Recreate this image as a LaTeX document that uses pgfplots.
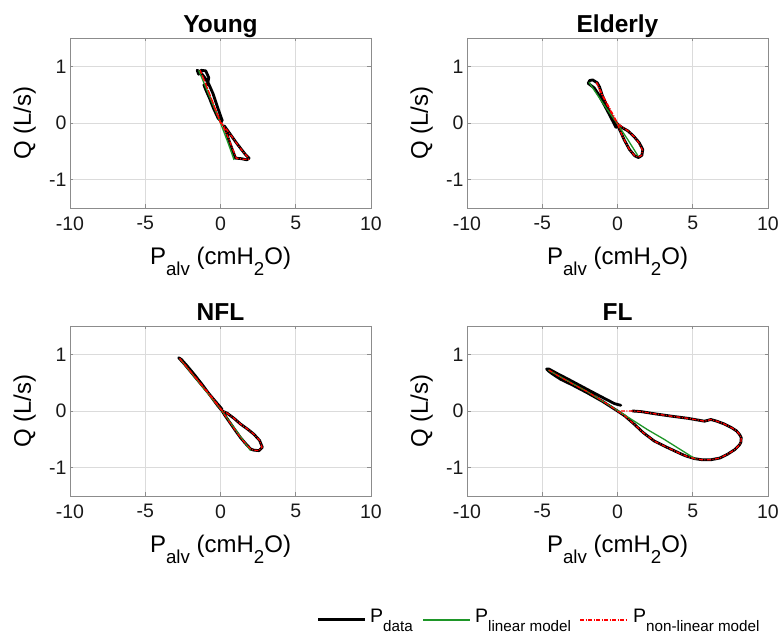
\documentclass[border=0pt]{standalone}
\usepackage{fontspec}
\setmainfont{Liberation Sans}
\usepackage{graphicx}
\usepackage{pgfplots}
\pgfplotsset{compat=1.18}

\definecolor{lingreen}{RGB}{30,150,40}
\definecolor{boxgray}{RGB}{140,140,140}

% MATLAB-like subscript: large and dropped low
\newcommand{\lsub}[1]{\raisebox{-0.42em}{\scalebox{0.78}{#1}}}

\pgfplotsset{
  panel/.style={
    scale only axis,
    width=301pt, height=170pt,
    xmin=-10, xmax=10, ymin=-1.5, ymax=1.5,
    xtick={-10,-5,0,5,10}, ytick={-1,0,1},
    grid=major,
    grid style={black!14, line width=0.6pt},
    axis line style={boxgray, line width=0.9pt},
    tick style={boxgray, line width=0.9pt},
    major tick length=3.5pt,
    tick align=inside,
    unbounded coords=jump,
    /pgf/number format/assume math mode=true,
    tick label style={font=\fontsize{19.5}{22}\selectfont, text=black!90},
    xticklabel style={yshift=-5pt},
    every axis title/.style={at={(axis description cs:0.5,1)}, anchor=base,
      yshift=5pt, font=\bfseries\fontsize{24.5}{28}\selectfont},
    every axis x label/.style={at={(axis description cs:0.5,-0.335)},
      anchor=base, font=\fontsize{24}{28}\selectfont},
    every axis y label/.style={at={(axis description cs:-0.13,0.5)},
      rotate=90, anchor=base, font=\fontsize{24}{28}\selectfont},
    xlabel={P\lsub{alv} (cmH\lsub{2}O)},
    ylabel={Q (L/s)},
  },
  pdata/.style={draw=black, line width=2.8pt, line join=round, line cap=round},
  plin/.style={draw=lingreen, line width=1.3pt},
  pnon/.style={draw=red, line width=1.3pt, dash pattern=on 4pt off 1.5pt on 1pt off 1.5pt},
}

\begin{document}
\begin{tikzpicture}
\path[use as bounding box] (0,0) rectangle (780pt,635pt);

% Young
\begin{axis}[panel, at={(70pt,427pt)}, anchor=south west, title={Young}]
\addplot[pdata] coordinates {
(0.12,0.04) (-0.2,0.28) (-0.5,0.52) (-0.8,0.70) (-1.1,0.82) (-1.35,0.90)
(-1.55,0.93) (-1.45,0.86) (-1.28,0.93) (-0.98,0.92) (-0.78,0.8) (-0.86,0.68)
(-1.1,0.67) (-1.0,0.60) (-0.75,0.45) (-0.45,0.25) (-0.15,0.08) (0.08,0.02)
(nan,nan)
(0.25,-0.05) (0.6,-0.18) (1.0,-0.33) (1.4,-0.47) (1.7,-0.57) (1.9,-0.62)
(1.75,-0.65) (1.4,-0.63) (1.0,-0.62) (0.8,-0.48) (0.55,-0.3) (0.35,-0.13) (0.25,-0.05)
};
\addplot[plin] coordinates {
(-1.45,0.93) (-0.7,0.45) (0.0,0.0) (0.5,-0.35) (0.9,-0.65)
};
\addplot[pnon] coordinates {
(-1.35,0.93) (-1.0,0.70) (-0.5,0.36) (0.0,0.02) (0.3,-0.08) (0.65,-0.2)
(1.05,-0.35) (1.45,-0.49) (1.8,-0.6) (1.85,-0.64) (1.5,-0.64) (1.05,-0.62)
(0.8,-0.45) (0.5,-0.25) (0.25,-0.1) (0.0,0.0) (-0.4,0.28) (-0.9,0.64) (-1.35,0.93)
};
\end{axis}

% Elderly
\begin{axis}[panel, at={(467pt,427pt)}, anchor=south west, title={Elderly}]
\addplot[pdata] coordinates {
(-0.1,-0.08) (-0.5,0.13) (-0.9,0.33) (-1.25,0.5) (-1.55,0.62) (-1.8,0.67)
(-1.95,0.70) (-1.85,0.75) (-1.65,0.76) (-1.35,0.71) (-1.2,0.64) (-1.0,0.48)
(-0.7,0.3) (-0.35,0.1) (0.0,-0.02) (0.3,-0.08) (0.7,-0.14) (1.1,-0.24)
(1.45,-0.35) (1.68,-0.47) (1.62,-0.57) (1.4,-0.61) (1.15,-0.58) (0.8,-0.47)
(0.45,-0.3) (0.2,-0.15) (0.02,-0.05)
};
\addplot[plin] coordinates {
(-1.9,0.72) (-1.0,0.36) (0.0,-0.02) (0.7,-0.3) (1.36,-0.58)
};
\addplot[pnon] coordinates {
(-1.4,0.72) (-1.0,0.5) (-0.5,0.25) (0.0,0.0) (0.3,-0.07) (0.7,-0.14)
(1.1,-0.24) (1.45,-0.36) (1.66,-0.48) (1.6,-0.57) (1.4,-0.6) (1.15,-0.58)
(0.8,-0.47) (0.45,-0.3) (0.2,-0.15) (0.0,-0.02) (-0.6,0.27) (-1.2,0.58) (-1.4,0.72)
};
\end{axis}

% NFL
\begin{axis}[panel, at={(70pt,139pt)}, anchor=south west, title={NFL}]
\addplot[pdata] coordinates {
(0.11,0.03) (-0.5,0.22) (-1.0,0.38) (-1.5,0.54) (-2.0,0.70) (-2.4,0.83)
(-2.78,0.94) (-2.6,0.91) (-2.2,0.79) (-1.7,0.63) (-1.2,0.46) (-0.7,0.28)
(-0.2,0.1) (0.11,0.0) (0.45,-0.04) (0.9,-0.13) (1.33,-0.23) (1.8,-0.32)
(2.22,-0.41) (2.6,-0.52) (2.78,-0.64) (2.56,-0.7) (2.2,-0.69) (2.0,-0.67)
(1.65,-0.57) (1.33,-0.47) (0.95,-0.33) (0.56,-0.18) (0.3,-0.08) (0.11,0.0)
};
\addplot[plin] coordinates {
(-2.7,0.92) (-1.3,0.46) (0.1,0.0) (1.0,-0.33) (2.0,-0.70)
};
\addplot[pnon] coordinates {
(-2.72,0.93) (-2.0,0.70) (-1.2,0.45) (-0.5,0.22) (0.11,0.01) (0.45,-0.04)
(0.9,-0.13) (1.33,-0.23) (1.8,-0.32) (2.22,-0.41) (2.6,-0.52) (2.76,-0.64)
(2.56,-0.7) (2.2,-0.69) (2.0,-0.67) (1.65,-0.57) (1.33,-0.47) (0.95,-0.33)
(0.56,-0.18) (0.3,-0.08) (0.11,0.0) (-0.7,0.27) (-1.7,0.6) (-2.72,0.93)
};
\end{axis}

% FL
\begin{axis}[panel, at={(467pt,139pt)}, anchor=south west, title={FL}]
\addplot[pdata] coordinates {
(1.0,0.0) (1.55,-0.01) (2.5,-0.05) (3.55,-0.09) (4.7,-0.13) (5.78,-0.18)
(6.2,-0.15) (6.6,-0.18) (7.1,-0.23) (7.55,-0.29) (7.9,-0.35) (8.1,-0.41)
(8.22,-0.47) (8.2,-0.55) (8.1,-0.6) (7.8,-0.68) (7.33,-0.76) (6.8,-0.83)
(6.22,-0.86) (5.6,-0.86) (5.11,-0.84) (4.5,-0.79) (4.0,-0.73) (3.2,-0.63)
(2.44,-0.53) (1.7,-0.38) (1.1,-0.23) (0.5,-0.09) (0.0,0.0) (-1.0,0.17)
(-2.0,0.32) (-3.0,0.46) (-3.78,0.56) (-4.3,0.65) (-4.6,0.71) (-4.71,0.74)
(-4.55,0.74) (-4.0,0.66) (-3.2,0.55) (-2.0,0.38) (-1.0,0.24) (-0.2,0.13) (0.22,0.1)
};
\addplot[plin] coordinates {
(-4.6,0.72) (-2.0,0.34) (0.0,0.01) (2.0,-0.33) (3.1,-0.5) (5.2,-0.85)
};
\addplot[pnon] coordinates {
(0.22,0.0) (1.0,0.0) (1.55,-0.01) (2.5,-0.05) (3.55,-0.09) (4.7,-0.13)
(5.78,-0.18) (6.2,-0.15) (6.6,-0.18) (7.1,-0.23) (7.55,-0.29) (7.9,-0.35)
(8.1,-0.41) (8.22,-0.47) (8.2,-0.55) (8.1,-0.6) (7.8,-0.68) (7.33,-0.76)
(6.8,-0.83) (6.22,-0.86) (5.6,-0.86) (5.11,-0.84) (4.5,-0.79) (4.0,-0.73)
(3.2,-0.63) (2.44,-0.53) (1.7,-0.38) (1.1,-0.23) (0.5,-0.09) (0.0,0.0)
(-1.0,0.18) (-2.0,0.34) (-3.0,0.48) (-4.0,0.63) (-4.6,0.73)
};
\end{axis}

% legend (sample lines and their labels)
\begin{scope}[every node/.style={anchor=base west, inner sep=0pt,
    font=\fontsize{19.5}{23}\selectfont}]
\draw[black, line width=3pt] (318pt,15pt) -- (365pt,15pt);
\node at (370pt,12pt) {P\lsub{data}};
\draw[lingreen, line width=1.5pt] (423pt,15pt) -- (470pt,15pt);
\node at (475pt,12pt) {P\lsub{linear model}};
\draw[red, line width=1.5pt, dash pattern=on 4pt off 1.5pt on 1pt off 1.5pt]
  (580pt,15pt) -- (628pt,15pt);
\node at (633pt,12pt) {P\lsub{non-linear model}};
\end{scope}
\end{tikzpicture}
\end{document}
